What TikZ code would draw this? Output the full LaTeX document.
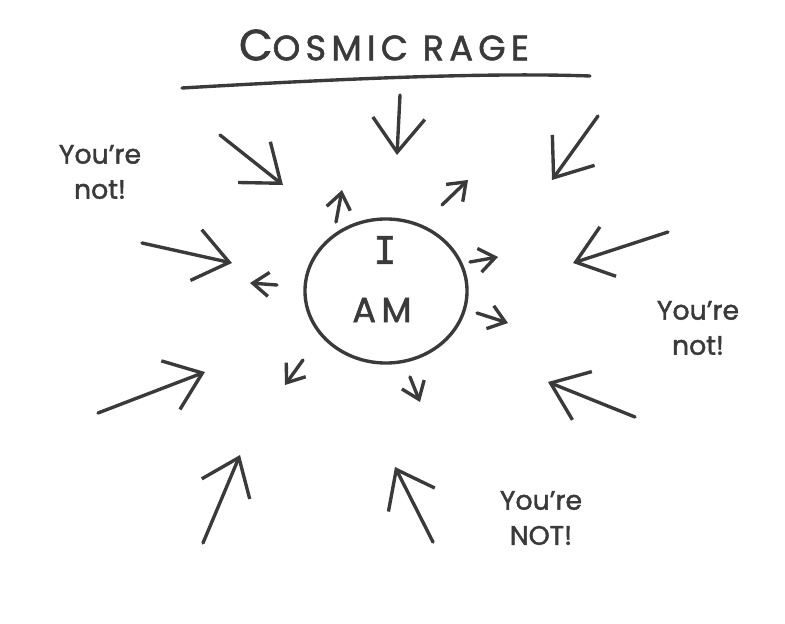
\documentclass[tikz,border=0pt]{standalone}
\usepackage{fontspec}
\setmainfont{Poppins}[FakeBold=1.6]
\newfontfamily\slabfont{DejaVu Sans Mono}[FakeBold=1.6]
\usetikzlibrary{arrows.meta, positioning, calc, shapes.geometric}
\definecolor{ink}{HTML}{3A3A3A}
\tikzset{
  marker/.style   = {draw=ink, line width=2.4pt, line cap=round, line join=round},
  inarrow/.style  = {marker, -{Straight Barb[length=8.5mm, width=13mm]}},
  outarrow/.style = {marker, -{Straight Barb[length=4mm, width=6mm]}},
  selfring/.style = {marker, ellipse, minimum width=4.05cm, minimum height=3.6cm},
  bigword/.style  = {text=ink, inner sep=0pt,
                     font=\fontsize{25}{30}\selectfont\addfontfeatures{LetterSpace=15}},
  scrawl/.style   = {text=ink, align=center, inner sep=0pt,
                     font=\fontsize{19}{25}\selectfont}
}

\begin{document}
\begin{tikzpicture}[x=0.025cm, y=-0.025cm]
  \useasboundingbox (0,0) rectangle (785,624);

  % ── Title with underline ──────────────────────────────────────────────────
  \node[bigword] (Title) at (384,45) {{\fontsize{31}{30}\selectfont C}OSMIC RAGE};
  \coordinate (LineL) at (182,88);
  \coordinate (LineR) at (590,76);
  \draw[marker] (LineL) .. controls (320,80) and (480,72) .. (LineR);

  % ── The self in the middle ────────────────────────────────────────────────
  \node[selfring] (Self) at (386,291) {};
  \node[bigword, font=\fontsize{27}{30}\slabfont] (Iword) at ($(Self.center)+(-1,-41)$) {I};
  \node[bigword] (AMword) at ($(Self.center)+(-4,19)$) {AM};

  % ── Small arrows pushing out ──────────────────────────────────────────────
  \foreach \n/\sx/\sy/\ex/\ey in {1/336/222/342/190, 2/442/205/468/180,
      3/470/262/498/257, 4/477/313/508/323, 5/410/377/420/402,
      6/303/360/285/385, 7/277/285/250/283}{
    \coordinate (Out\n-from) at (\sx,\sy);
    \coordinate (Out\n-to)   at (\ex,\ey);
    \draw[outarrow] (Out\n-from) -- (Out\n-to);
  }

  % ── Big arrows pressing in ────────────────────────────────────────────────
  \foreach \n/\sx/\sy/\ex/\ey in {1/400/95/397/155, 2/220/135/283/185,
      3/142/243/232/263, 4/598/116/552/180, 5/668/232/573/263,
      6/635/417/548/382, 7/98/413/205/372, 8/203/543/240/455,
      9/433/542/395/467}{
    \coordinate (In\n-from) at (\sx,\sy);
    \coordinate (In\n-to)   at (\ex,\ey);
    \draw[inarrow] (In\n-from) -- (In\n-to);
  }

  % ── The voices ────────────────────────────────────────────────────────────
  \node[scrawl] (CryLeft)  at (100,172) {You're\\not!};
  \node[scrawl] (CryRight) at (698,328) {You're\\not!};
  \node[scrawl] (CryLow)   at (541,518) {You're\\NOT!};

\end{tikzpicture}
\end{document}
